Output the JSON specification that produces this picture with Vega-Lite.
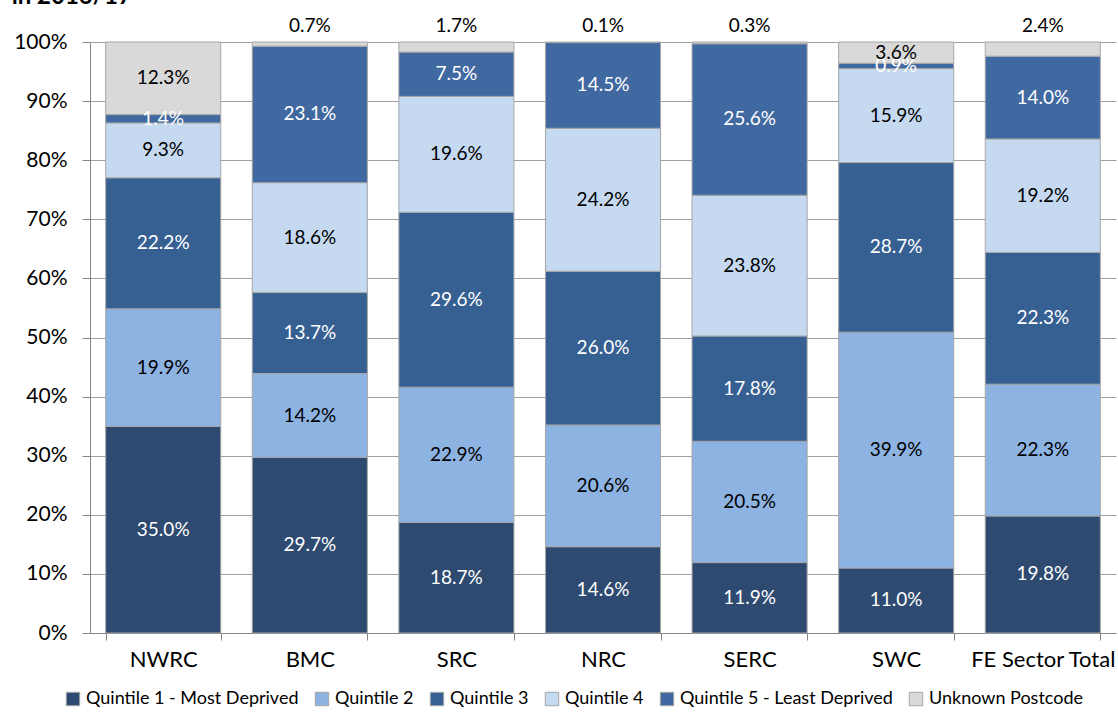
{
  "$schema": "https://vega.github.io/schema/vega-lite/v6.json",
  "width": 1026,
  "height": 591,
  "autosize": {"type": "none"},
  "padding": {"left": 90, "top": 42, "right": 2, "bottom": 91},
  "background": "white",
  "config": {
    "font": "Lato",
    "view": {"stroke": null}
  },
  "title": {
    "text": "in 2016/17",
    "anchor": "start",
    "fontSize": 24,
    "fontWeight": "bold",
    "color": "black",
    "dx": -2,
    "offset": 8
  },
  "data": {
    "values": [
      {"college": "NWRC", "series": "Quintile 1 - Most Deprived", "value": 35.0},
      {"college": "NWRC", "series": "Quintile 2", "value": 19.9},
      {"college": "NWRC", "series": "Quintile 3", "value": 22.2},
      {"college": "NWRC", "series": "Quintile 4", "value": 9.3},
      {"college": "NWRC", "series": "Quintile 5 - Least Deprived", "value": 1.4},
      {"college": "NWRC", "series": "Unknown Postcode", "value": 12.3},
      {"college": "BMC", "series": "Quintile 1 - Most Deprived", "value": 29.7},
      {"college": "BMC", "series": "Quintile 2", "value": 14.2},
      {"college": "BMC", "series": "Quintile 3", "value": 13.7},
      {"college": "BMC", "series": "Quintile 4", "value": 18.6},
      {"college": "BMC", "series": "Quintile 5 - Least Deprived", "value": 23.1},
      {"college": "BMC", "series": "Unknown Postcode", "value": 0.7},
      {"college": "SRC", "series": "Quintile 1 - Most Deprived", "value": 18.7},
      {"college": "SRC", "series": "Quintile 2", "value": 22.9},
      {"college": "SRC", "series": "Quintile 3", "value": 29.6},
      {"college": "SRC", "series": "Quintile 4", "value": 19.6},
      {"college": "SRC", "series": "Quintile 5 - Least Deprived", "value": 7.5},
      {"college": "SRC", "series": "Unknown Postcode", "value": 1.7},
      {"college": "NRC", "series": "Quintile 1 - Most Deprived", "value": 14.6},
      {"college": "NRC", "series": "Quintile 2", "value": 20.6},
      {"college": "NRC", "series": "Quintile 3", "value": 26.0},
      {"college": "NRC", "series": "Quintile 4", "value": 24.2},
      {"college": "NRC", "series": "Quintile 5 - Least Deprived", "value": 14.5},
      {"college": "NRC", "series": "Unknown Postcode", "value": 0.1},
      {"college": "SERC", "series": "Quintile 1 - Most Deprived", "value": 11.9},
      {"college": "SERC", "series": "Quintile 2", "value": 20.5},
      {"college": "SERC", "series": "Quintile 3", "value": 17.8},
      {"college": "SERC", "series": "Quintile 4", "value": 23.8},
      {"college": "SERC", "series": "Quintile 5 - Least Deprived", "value": 25.6},
      {"college": "SERC", "series": "Unknown Postcode", "value": 0.3},
      {"college": "SWC", "series": "Quintile 1 - Most Deprived", "value": 11.0},
      {"college": "SWC", "series": "Quintile 2", "value": 39.9},
      {"college": "SWC", "series": "Quintile 3", "value": 28.7},
      {"college": "SWC", "series": "Quintile 4", "value": 15.9},
      {"college": "SWC", "series": "Quintile 5 - Least Deprived", "value": 0.9},
      {"college": "SWC", "series": "Unknown Postcode", "value": 3.6},
      {"college": "FE Sector Total", "series": "Quintile 1 - Most Deprived", "value": 19.8},
      {"college": "FE Sector Total", "series": "Quintile 2", "value": 22.3},
      {"college": "FE Sector Total", "series": "Quintile 3", "value": 22.3},
      {"college": "FE Sector Total", "series": "Quintile 4", "value": 19.2},
      {"college": "FE Sector Total", "series": "Quintile 5 - Least Deprived", "value": 14.0},
      {"college": "FE Sector Total", "series": "Unknown Postcode", "value": 2.4}
    ]
  },
  "transform": [
    {"stack": "value", "groupby": ["college"], "sort": [{"field": "series", "order": "ascending"}], "as": ["y0", "y1"], "offset": "normalize"}
  ],
  "encoding": {
    "x": {
      "field": "college",
      "type": "nominal",
      "sort": ["NWRC", "BMC", "SRC", "NRC", "SERC", "SWC", "FE Sector Total"],
      "scale": {"paddingInner": 0.215, "paddingOuter": 0.107},
      "axis": {
        "title": null,
        "labelAngle": 0,
        "labelFontSize": 22,
        "labelColor": "black",
        "labelPadding": 9,
        "labelLimit": 0,
        "tickBand": "extent",
        "tickSize": 7,
        "tickColor": "#868686",
        "domainColor": "#868686"
      }
    }
  },
  "layer": [
    {
      "mark": {"type": "bar", "stroke": "#A6A6A6", "strokeWidth": 1},
      "encoding": {
        "y": {
          "field": "y0",
          "type": "quantitative",
          "scale": {"domain": [0, 1], "nice": false},
          "axis": {
            "title": null,
            "format": ".0%",
            "values": [0, 0.1, 0.2, 0.3, 0.4, 0.5, 0.6, 0.7, 0.8, 0.9, 1.0],
            "labelFontSize": 21,
            "labelColor": "black",
            "labelPadding": 15,
            "tickSize": 8,
            "tickColor": "#868686",
            "domainColor": "#868686",
            "grid": true,
            "gridColor": "#A0A0A0",
            "gridWidth": 1.2
          }
        },
        "y2": {"field": "y1"},
        "color": {
          "field": "series",
          "type": "nominal",
          "scale": {
            "domain": ["Quintile 1 - Most Deprived", "Quintile 2", "Quintile 3", "Quintile 4", "Quintile 5 - Least Deprived", "Unknown Postcode"],
            "range": ["#2E4A70", "#8DB3E2", "#366092", "#C5D9F1", "#4169A1", "#D9D9D9"]
          },
          "legend": {
            "title": null,
            "orient": "none",
            "legendX": -26,
            "legendY": 648,
            "direction": "horizontal",
            "labelFontSize": 18,
            "labelColor": "black",
            "labelLimit": 0,
            "symbolType": "square",
            "symbolSize": 180,
            "symbolStrokeColor": "#A6A6A6",
            "symbolStrokeWidth": 1,
            "columnPadding": 14,
            "labelOffset": 4
          }
        }
      }
    },
    {
      "transform": [
        {"filter": "datum.series !== 'Unknown Postcode' || datum.value >= 3"},
        {"fold": ["y0", "y1"], "as": ["edge", "pos"]},
        {"aggregate": [{"op": "mean", "field": "pos", "as": "mid"}, {"op": "max", "field": "value", "as": "pct"}], "groupby": ["college", "series"]}
      ],
      "mark": {"type": "text", "fontSize": 19, "baseline": "middle", "text": {"expr": "format(datum.pct, '.1f') + '%'"}},
      "encoding": {
        "y": {"field": "mid", "type": "quantitative"},
        "color": {
          "condition": {"test": "datum.series === 'Quintile 2' || datum.series === 'Quintile 4' || datum.series === 'Unknown Postcode'", "value": "black"},
          "value": "white"
        }
      }
    },
    {
      "transform": [
        {"filter": "datum.series === 'Unknown Postcode' && datum.value < 3"}
      ],
      "mark": {"type": "text", "fontSize": 19, "baseline": "middle", "dy": -16, "color": "black", "text": {"expr": "format(datum.value, '.1f') + '%'"}},
      "encoding": {
        "y": {"field": "y1", "type": "quantitative"}
      }
    }
  ]
}
